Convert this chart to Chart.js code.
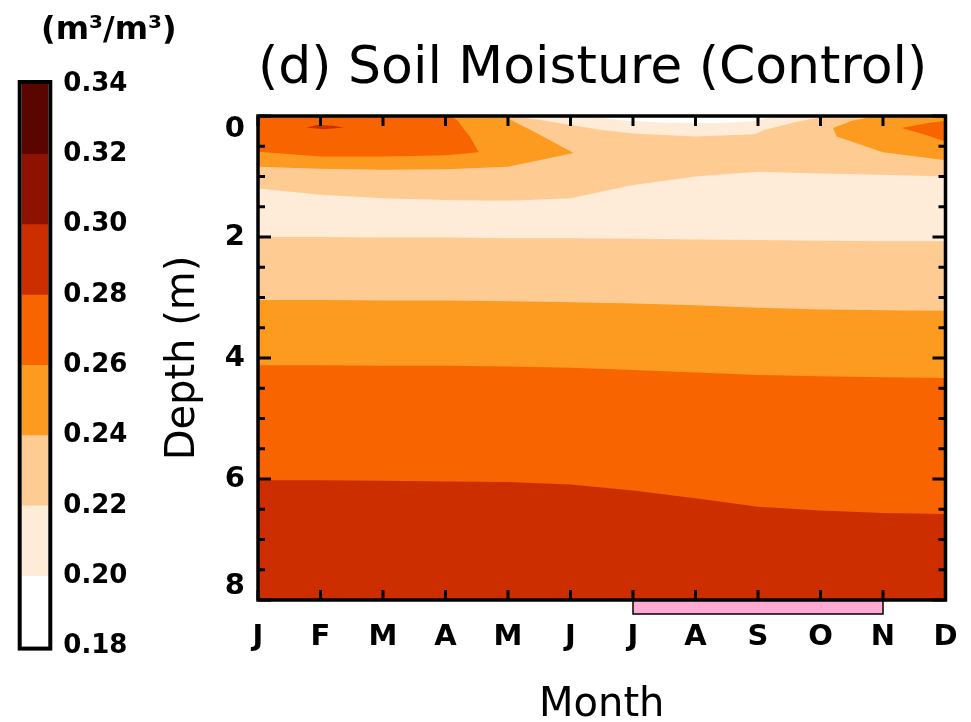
<!DOCTYPE html>
<html>
<head>
<meta charset="utf-8">
<script src="https://cdn.jsdelivr.net/npm/chart.js@4.4.1/dist/chart.umd.min.js"></script>
<style>
  html, body { margin: 0; padding: 0; background: #fff; overflow: hidden; }
  #wrap { position: relative; width: 971px; height: 722px; }
  #mainBox { position: absolute; left: 0; top: 0; width: 971px; height: 722px; }
  #barBox { position: absolute; left: 0; top: 0; width: 196px; height: 722px; }
</style>
</head>
<body>
<div id="wrap">
  <div id="mainBox"><canvas id="soilChart"></canvas></div>
  <div id="barBox"><canvas id="scaleChart"></canvas></div>
</div>
<script>
var monthLabels = ['J', 'F', 'M', 'A', 'M', 'J', 'J', 'A', 'S', 'O', 'N', 'D'];
var levels = [0.18, 0.20, 0.22, 0.24, 0.26, 0.28, 0.30, 0.32, 0.34];
var levelColors = ['#FFFFFF', '#FEEBD8', '#FECC93', '#FD9A20', '#F86500', '#CC2E00', '#8E1200', '#5A0500'];

// depth (m) of each contour, one value per month
var edgeSurface = [0, 0, 0, 0, 0, 0, 0, 0, 0, 0, 0, 0];
var edge022a = [1.20, 1.30, 1.36, 1.39, 1.40, 1.36, 1.14, 1.00, 0.92, 0.95, 0.97, 1.00];
var edge022b = [2.00, 2.00, 2.01, 2.01, 2.02, 2.02, 2.03, 2.04, 2.05, 2.06, 2.07, 2.07];
var edge024 = [3.04, 3.04, 3.05, 3.05, 3.06, 3.08, 3.10, 3.13, 3.17, 3.20, 3.21, 3.22];
var edge026 = [4.12, 4.12, 4.13, 4.13, 4.14, 4.16, 4.20, 4.24, 4.28, 4.30, 4.32, 4.33];
var edge028 = [6.02, 6.02, 6.03, 6.04, 6.05, 6.09, 6.19, 6.32, 6.46, 6.52, 6.56, 6.58];

// near-surface patches, outlines as [month, depth]
var summerDry = [[4.05, 0], [4.5, 0.06], [5, 0.15], [5.5, 0.23], [6, 0.29], [7, 0.34], [7.95, 0.3], [8.1, 0.23], [8.6, 0.1], [9, 0.02], [9.2, 0]];
var summerDriest = [[5.3, 0], [5.8, 0.07], [6.5, 0.11], [7.3, 0.12], [7.9, 0.09], [8.3, 0]];
var winterWet = [[0, 0], [3.92, 0], [4.3, 0.2], [4.56, 0.34], [5.05, 0.61], [4, 0.84], [3, 0.88], [2, 0.89], [1, 0.87], [0, 0.84]];
var winterWetter = [[0, 0], [3.07, 0], [3.2, 0.08], [3.28, 0.2], [3.39, 0.34], [3.53, 0.6], [3, 0.65], [2, 0.67], [1, 0.67], [0, 0.59]];
var febWettest = [[0.78, 0.19], [0.95, 0.15], [1.2, 0.16], [1.37, 0.19], [1.05, 0.22]];
var autumnWet = [[9.2, 0.2], [9.5, 0.08], [9.9, 0], [11, 0], [11, 0.73], [10, 0.6], [9.26, 0.34]];
var autumnWetter = [[10.3, 0.2], [10.7, 0.12], [11, 0.08], [11, 0.42], [10.7, 0.32]];

var highlightMonths = [6, 10];

function band(edge) {
  var pts = edge.map(function(d, i) { return {x: i, y: d}; });
  pts.push({x: edge.length - 1, y: 8}, {x: 0, y: 8});
  return pts;
}
function patch(list) {
  return list.map(function(p) { return {x: p[0], y: p[1]}; });
}

// painted in this order, later ones on top
var layers = [
  [band(edgeSurface), levelColors[2]],
  [band(edge022a), levelColors[1]],
  [band(edge022b), levelColors[2]],
  [band(edge024), levelColors[3]],
  [band(edge026), levelColors[4]],
  [band(edge028), levelColors[5]],
  [patch(summerDry), levelColors[1]],
  [patch(summerDriest), levelColors[0]],
  [patch(winterWet), levelColors[3]],
  [patch(winterWetter), levelColors[4]],
  [patch(febWettest), levelColors[5]],
  [patch(autumnWet), levelColors[3]],
  [patch(autumnWetter), levelColors[4]]
];

var frame = {
  id: 'frame',
  afterDatasetsDraw: function(chart) {
    var ctx = chart.ctx, a = chart.chartArea, xs = chart.scales.x, ys = chart.scales.y;
    ctx.save();
    var x0 = xs.getPixelForValue(highlightMonths[0]);
    var x1 = xs.getPixelForValue(highlightMonths[1]);
    ctx.fillStyle = '#FFAAD4';
    ctx.fillRect(x0, a.bottom, x1 - x0, 14);
    ctx.lineWidth = 1.5;
    ctx.strokeStyle = '#000';
    ctx.strokeRect(x0, a.bottom, x1 - x0, 14);

    ctx.lineWidth = 3;
    ctx.beginPath();
    for (var i = 0; i < monthLabels.length; i++) {
      var px = xs.getPixelForValue(i);
      ctx.moveTo(px, a.top); ctx.lineTo(px, a.top + 10);
      ctx.moveTo(px, a.bottom); ctx.lineTo(px, a.bottom - 10);
    }
    for (var d = 0; d <= 8; d += 0.5) {
      var py = ys.getPixelForValue(d);
      var len = d % 2 === 0 ? 13 : 7;
      ctx.moveTo(a.left, py); ctx.lineTo(a.left + len, py);
      ctx.moveTo(a.right, py); ctx.lineTo(a.right - len, py);
    }
    ctx.stroke();
    ctx.lineWidth = 3.5;
    ctx.strokeRect(a.left, a.top, a.right - a.left, a.bottom - a.top);
    ctx.restore();
  }
};

var outline = {
  id: 'outline',
  afterDatasetsDraw: function(chart) {
    var ctx = chart.ctx, a = chart.chartArea;
    ctx.save();
    ctx.lineWidth = 4;
    ctx.strokeStyle = '#000';
    ctx.strokeRect(a.left - 2, a.top - 2, a.right - a.left + 4, a.bottom - a.top + 4);
    ctx.restore();
  }
};

new Chart(document.getElementById('soilChart'), {
  type: 'line',
  data: {
    datasets: layers.map(function(l, i) {
      return {
        data: l[0],
        backgroundColor: l[1],
        borderColor: 'rgba(0,0,0,0)',
        borderWidth: 0,
        pointRadius: 0,
        tension: 0,
        fill: 'shape',
        order: -i
      };
    })
  },
  options: {
    responsive: true,
    maintainAspectRatio: false,
    animation: false,
    layout: { padding: { left: 150, right: 25.5, top: 0, bottom: 0 } },
    plugins: {
      legend: { display: false },
      tooltip: { enabled: false },
      title: {
        display: true,
        text: '(d) Soil Moisture (Control)',
        align: 'start',
        fullSize: false,
        color: '#000',
        font: { family: 'DejaVu Sans', size: 52, weight: 'normal', lineHeight: 1.2 },
        padding: { top: 38, bottom: 15.6 }
      }
    },
    scales: {
      x: {
        type: 'linear',
        min: 0,
        max: 11,
        grid: { display: false, drawTicks: false },
        border: { display: false },
        ticks: {
          stepSize: 1,
          autoSkip: false,
          maxRotation: 0,
          padding: 0,
          color: '#000',
          font: { family: 'DejaVu Sans', size: 29, weight: 'bold', lineHeight: 2.55 },
          callback: function(v) { return monthLabels[v]; }
        },
        title: {
          display: true,
          text: 'Month',
          color: '#000',
          font: { family: 'DejaVu Sans', size: 40, weight: 'normal', lineHeight: 0.8 },
          padding: { top: 0, bottom: 0 }
        },
        afterFit: function(s) { s.height = 122; }
      },
      y: {
        type: 'linear',
        reverse: true,
        min: 0,
        max: 8,
        grid: { display: false, drawTicks: false },
        border: { display: false },
        ticks: {
          stepSize: 2,
          padding: 13,
          color: '#000',
          font: { family: 'DejaVu Sans', size: 29, weight: 'bold', lineHeight: 0.9 },
          callback: function(v) {
            if (v === 0) return ['', '0'];
            if (v === 8) return ['8', ''];
            return String(v);
          }
        },
        title: {
          display: true,
          text: 'Depth (m)',
          color: '#000',
          font: { family: 'DejaVu Sans', size: 40, weight: 'normal', lineHeight: 1.2 },
          padding: { top: 10, bottom: 0 }
        },
        afterFit: function(s) { s.width = 108; }
      }
    }
  },
  plugins: [frame]
});

new Chart(document.getElementById('scaleChart'), {
  type: 'bar',
  data: {
    labels: ['level'],
    datasets: levelColors.map(function(c, i) {
      return {
        data: [[levels[i], levels[i + 1]]],
        backgroundColor: c,
        borderWidth: 0,
        barPercentage: 1,
        categoryPercentage: 1,
        grouped: false
      };
    })
  },
  options: {
    responsive: true,
    maintainAspectRatio: false,
    animation: false,
    layout: { padding: { left: 21.7, right: 0, top: 0, bottom: 75.4 } },
    plugins: {
      legend: { display: false },
      tooltip: { enabled: false },
      title: {
        display: true,
        text: '(m³/m³)',
        color: '#000',
        font: { family: 'DejaVu Sans', size: 32, weight: 'bold', lineHeight: 1.2 },
        padding: { top: 11, bottom: 34.6 }
      }
    },
    scales: {
      x: { display: false },
      y: {
        position: 'right',
        min: 0.18,
        max: 0.34,
        grid: { display: false, drawTicks: false },
        border: { display: false },
        ticks: {
          stepSize: 0.02,
          padding: 15,
          color: '#000',
          font: { family: 'DejaVu Sans', size: 26, weight: 'bold' },
          callback: function(v) { return v.toFixed(2); }
        },
        afterFit: function(s) { s.width = 196 - 48.3; }
      }
    }
  },
  plugins: [outline]
});
</script>
</body>
</html>
